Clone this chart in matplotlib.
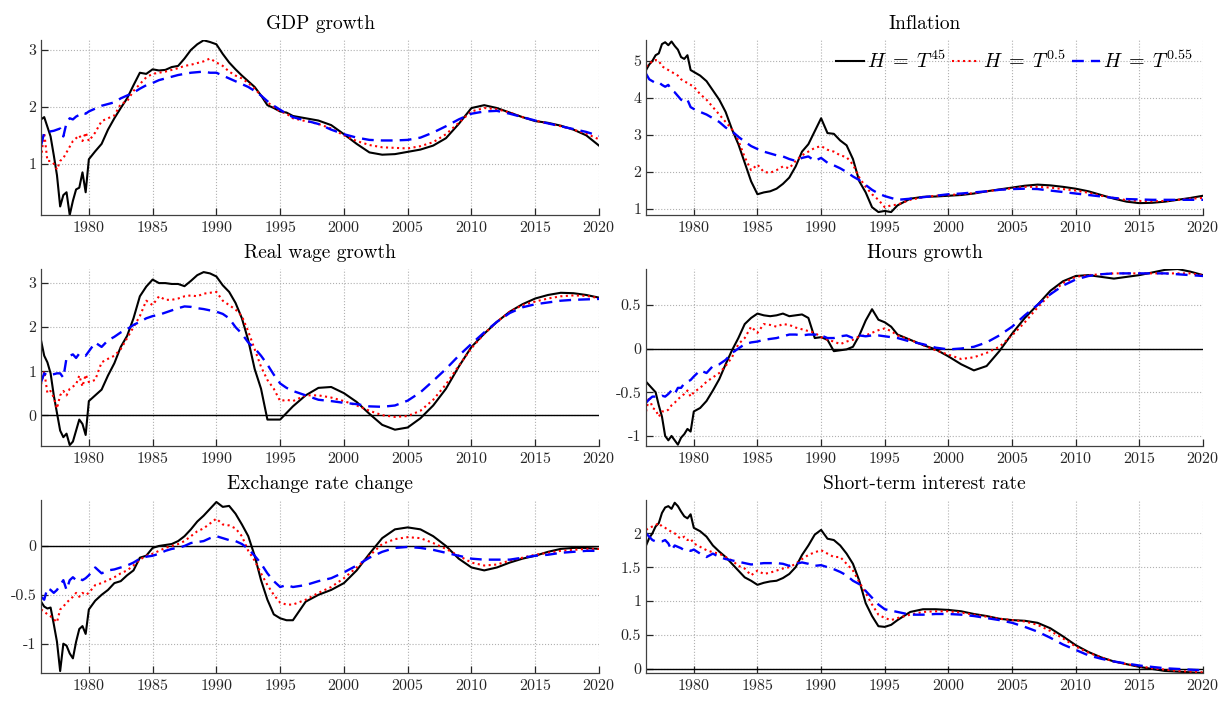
import numpy as np
import matplotlib
matplotlib.use('Agg')
import matplotlib.pyplot as plt
from matplotlib.ticker import FuncFormatter

plt.rcParams['font.family'] = 'serif'
plt.rcParams['font.serif'] = ['cmr10', 'DejaVu Serif']
plt.rcParams['mathtext.fontset'] = 'cm'
plt.rcParams['axes.unicode_minus'] = False
plt.rcParams['axes.formatter.use_mathtext'] = True

# quarterly to 1980, half-yearly to 1996, yearly afterwards
years = np.concatenate([np.arange(1976.25, 1980.01, 0.25),
                        np.arange(1980.5, 1996.01, 0.5),
                        np.arange(1997, 2020.01, 1.0)])

gdp_h45 = [1.78, 1.82, 1.65, 1.48, 1.15, 0.80, 0.25, 0.45, 0.50, 0.10, 0.35, 0.55, 0.58, 0.85, 0.50, 1.08,
           1.22, 1.35, 1.60, 1.80, 1.98, 2.15, 2.38, 2.60, 2.58, 2.66, 2.64, 2.65, 2.70, 2.72, 2.85, 3.00,
           3.10, 3.17, 3.14, 3.10, 2.93, 2.78, 2.66, 2.55, 2.45, 2.35, 2.20, 2.03, 1.98, 1.92, 1.90, 1.84,
           1.80, 1.76, 1.68, 1.52, 1.35, 1.20, 1.16, 1.17, 1.21, 1.25, 1.32, 1.45, 1.70, 1.98, 2.03, 1.98,
           1.90, 1.82, 1.75, 1.72, 1.67, 1.60, 1.50, 1.32]
gdp_h05 = [1.10, 1.55, 1.05, 1.05, 1.00, 0.90, 1.05, 1.10, 1.20, 1.30, 1.40, 1.45, 1.50, 1.40, 1.55, 1.40,
           1.55, 1.75, 1.80, 1.85, 2.05, 2.10, 2.28, 2.40, 2.52, 2.58, 2.60, 2.62, 2.65, 2.68, 2.72, 2.74,
           2.77, 2.80, 2.85, 2.78, 2.72, 2.62, 2.55, 2.50, 2.42, 2.32, 2.20, 2.08, 2.00, 1.92, 1.88, 1.80,
           1.75, 1.70, 1.62, 1.50, 1.40, 1.33, 1.29, 1.28, 1.27, 1.31, 1.38, 1.52, 1.72, 1.92, 1.98, 1.96,
           1.90, 1.82, 1.76, 1.71, 1.66, 1.60, 1.53, 1.43]
gdp_h055 = [1.32, 1.55, 1.55, 1.57, 1.58, 1.60, 1.62, 1.48, 1.72, 1.80, 1.78, 1.83, 1.86, 1.90, 1.88, 1.92,
            1.97, 2.02, 2.05, 2.08, 2.15, 2.20, 2.25, 2.32, 2.38, 2.42, 2.47, 2.50, 2.53, 2.56, 2.58, 2.60,
            2.61, 2.62, 2.60, 2.60, 2.55, 2.50, 2.45, 2.40, 2.35, 2.28, 2.20, 2.10, 2.02, 1.95, 1.88, 1.82,
            1.76, 1.70, 1.60, 1.52, 1.46, 1.42, 1.41, 1.41, 1.42, 1.46, 1.55, 1.66, 1.78, 1.88, 1.92, 1.93,
            1.88, 1.82, 1.76, 1.71, 1.66, 1.61, 1.56, 1.49]

infl_h45 = [4.75, 4.90, 5.00, 5.15, 5.20, 5.45, 5.50, 5.42, 5.52, 5.40, 5.30, 5.10, 5.05, 5.15, 4.75, 4.70,
            4.60, 4.45, 4.20, 3.95, 3.62, 3.15, 2.75, 2.25, 1.75, 1.40, 1.45, 1.48, 1.55, 1.68, 1.85, 2.15,
            2.55, 2.75, 3.10, 3.45, 3.05, 3.03, 2.85, 2.72, 2.35, 1.75, 1.45, 1.05, 0.92, 0.95, 0.92, 1.10,
            1.28, 1.33, 1.34, 1.36, 1.38, 1.42, 1.48, 1.53, 1.58, 1.63, 1.66, 1.64, 1.60, 1.55, 1.48, 1.38,
            1.28, 1.20, 1.16, 1.17, 1.20, 1.25, 1.30, 1.36]
infl_h05 = [4.85, 4.90, 5.00, 5.02, 5.00, 4.85, 4.80, 4.75, 4.70, 4.65, 4.60, 4.50, 4.45, 4.40, 4.35, 4.30,
            4.10, 3.95, 3.75, 3.55, 3.35, 3.15, 2.85, 2.40, 2.05, 2.20, 2.00, 1.98, 2.05, 2.15, 2.10, 2.30,
            2.45, 2.55, 2.65, 2.70, 2.60, 2.55, 2.45, 2.40, 2.20, 1.85, 1.60, 1.40, 1.25, 1.05, 1.10, 1.12,
            1.25, 1.32, 1.36, 1.38, 1.40, 1.43, 1.48, 1.52, 1.56, 1.60, 1.60, 1.58, 1.54, 1.50, 1.44, 1.36,
            1.30, 1.24, 1.22, 1.21, 1.22, 1.25, 1.28, 1.30]
infl_h055 = [4.65, 4.50, 4.45, 4.40, 4.42, 4.35, 4.30, 4.35, 4.20, 4.15, 4.05, 3.95, 3.90, 3.95, 3.75, 3.70,
             3.62, 3.55, 3.45, 3.35, 3.20, 3.10, 2.95, 2.82, 2.70, 2.62, 2.55, 2.50, 2.45, 2.42, 2.35, 2.30,
             2.38, 2.42, 2.30, 2.38, 2.25, 2.18, 2.10, 2.00, 1.88, 1.78, 1.65, 1.52, 1.42, 1.35, 1.30, 1.25,
             1.28, 1.32, 1.36, 1.40, 1.42, 1.45, 1.48, 1.52, 1.54, 1.55, 1.54, 1.50, 1.46, 1.42, 1.38, 1.34,
             1.30, 1.27, 1.26, 1.25, 1.25, 1.25, 1.25, 1.25]

wage_h45 = [1.70, 1.35, 1.20, 0.95, 0.45, 0.05, -0.35, -0.50, -0.42, -0.68, -0.60, -0.35, -0.10, -0.20, -0.45, 0.32,
            0.45, 0.58, 0.90, 1.18, 1.55, 1.80, 2.20, 2.70, 2.92, 3.08, 3.00, 3.00, 2.98, 2.98, 2.93, 3.05,
            3.18, 3.25, 3.22, 3.15, 2.95, 2.80, 2.55, 2.20, 1.70, 1.05, 0.60, -0.10, -0.10, -0.10, 0.05, 0.20,
            0.45, 0.62, 0.64, 0.50, 0.30, 0.03, -0.22, -0.33, -0.28, -0.07, 0.22, 0.60, 1.10, 1.55, 1.85, 2.12,
            2.35, 2.52, 2.65, 2.73, 2.78, 2.77, 2.73, 2.67]
wage_h05 = [0.70, 1.00, 0.50, 0.55, 0.40, 0.15, 0.45, 0.55, 0.45, 0.60, 0.65, 0.70, 0.90, 0.65, 0.92, 0.75,
            0.80, 1.20, 1.28, 1.35, 1.50, 1.75, 2.00, 2.25, 2.60, 2.50, 2.70, 2.62, 2.62, 2.65, 2.70, 2.72,
            2.70, 2.76, 2.78, 2.80, 2.60, 2.50, 2.40, 2.25, 1.90, 1.50, 1.10, 0.80, 0.60, 0.32, 0.35, 0.32,
            0.45, 0.45, 0.40, 0.32, 0.22, 0.10, 0.00, -0.04, -0.02, 0.10, 0.35, 0.70, 1.12, 1.52, 1.85, 2.12,
            2.35, 2.50, 2.58, 2.65, 2.70, 2.72, 2.71, 2.66]
wage_h055 = [0.75, 0.95, 0.90, 0.92, 0.93, 0.95, 0.95, 0.85, 1.30, 1.35, 1.38, 1.30, 1.40, 1.38, 1.35, 1.45,
             1.65, 1.55, 1.70, 1.78, 1.88, 1.95, 2.05, 2.12, 2.20, 2.25, 2.28, 2.33, 2.38, 2.43, 2.47, 2.46,
             2.43, 2.41, 2.38, 2.35, 2.30, 2.20, 2.00, 1.85, 1.65, 1.52, 1.35, 1.15, 0.92, 0.72, 0.62, 0.55,
             0.45, 0.35, 0.32, 0.28, 0.25, 0.20, 0.19, 0.22, 0.33, 0.52, 0.78, 1.05, 1.35, 1.62, 1.88, 2.12,
             2.32, 2.45, 2.52, 2.56, 2.60, 2.62, 2.63, 2.64]

hours_h45 = [-0.38, -0.42, -0.46, -0.50, -0.65, -0.78, -1.00, -1.05, -1.00, -1.05, -1.10, -1.02, -0.98, -0.92, -0.95, -0.72,
             -0.68, -0.60, -0.48, -0.35, -0.18, -0.02, 0.12, 0.28, 0.35, 0.40, 0.38, 0.37, 0.38, 0.40, 0.37, 0.38,
             0.39, 0.35, 0.12, 0.13, 0.10, -0.03, -0.02, -0.01, 0.02, 0.15, 0.32, 0.45, 0.33, 0.30, 0.25, 0.16,
             0.10, 0.04, -0.01, -0.09, -0.18, -0.25, -0.20, -0.03, 0.17, 0.35, 0.50, 0.66, 0.77, 0.83, 0.84, 0.82,
             0.80, 0.82, 0.84, 0.87, 0.90, 0.91, 0.88, 0.84]
hours_h05 = [-0.72, -0.55, -0.68, -0.70, -0.78, -0.72, -0.72, -0.70, -0.65, -0.62, -0.58, -0.55, -0.52, -0.48, -0.55, -0.50,
             -0.45, -0.38, -0.33, -0.28, -0.20, -0.10, 0.05, 0.12, 0.25, 0.18, 0.28, 0.27, 0.25, 0.28, 0.27, 0.24,
             0.22, 0.20, 0.18, 0.13, 0.10, 0.08, 0.05, 0.08, 0.10, 0.14, 0.15, 0.18, 0.21, 0.23, 0.20, 0.15,
             0.10, 0.04, -0.02, -0.07, -0.12, -0.10, -0.05, 0.02, 0.15, 0.30, 0.47, 0.62, 0.75, 0.82, 0.84, 0.85,
             0.86, 0.86, 0.86, 0.86, 0.86, 0.86, 0.86, 0.84]
hours_h055 = [-0.62, -0.58, -0.55, -0.55, -0.56, -0.54, -0.55, -0.52, -0.48, -0.52, -0.45, -0.45, -0.40, -0.38, -0.36, -0.32,
              -0.25, -0.28, -0.20, -0.18, -0.13, -0.05, 0.00, 0.05, 0.07, 0.08, 0.10, 0.11, 0.12, 0.14, 0.16, 0.16,
              0.15, 0.16, 0.16, 0.15, 0.12, 0.12, 0.14, 0.15, 0.12, 0.15, 0.14, 0.15, 0.15, 0.14, 0.13, 0.12,
              0.08, 0.05, 0.01, -0.01, 0.00, 0.02, 0.07, 0.15, 0.25, 0.38, 0.50, 0.62, 0.72, 0.79, 0.83, 0.85,
              0.86, 0.86, 0.86, 0.86, 0.86, 0.85, 0.84, 0.83]

fx_h45 = [-0.57, -0.62, -0.64, -0.63, -0.80, -0.98, -1.28, -1.00, -1.02, -1.10, -1.15, -0.98, -0.85, -0.82, -0.90, -0.65,
          -0.56, -0.50, -0.45, -0.38, -0.36, -0.30, -0.25, -0.12, -0.10, -0.02, 0.00, 0.01, 0.02, 0.05, 0.10, 0.17,
          0.25, 0.31, 0.38, 0.45, 0.40, 0.41, 0.33, 0.22, 0.10, -0.10, -0.35, -0.55, -0.70, -0.74, -0.76, -0.76,
          -0.57, -0.50, -0.45, -0.38, -0.25, -0.08, 0.08, 0.17, 0.19, 0.17, 0.10, 0.00, -0.13, -0.22, -0.25, -0.22,
          -0.17, -0.13, -0.10, -0.06, -0.03, -0.02, -0.02, -0.03]
fx_h05 = [-0.65, -0.67, -0.70, -0.72, -0.75, -0.78, -0.65, -0.62, -0.58, -0.55, -0.52, -0.48, -0.52, -0.48, -0.50, -0.48,
          -0.40, -0.38, -0.35, -0.32, -0.28, -0.25, -0.20, -0.14, -0.10, -0.08, -0.05, -0.02, 0.00, 0.02, 0.05, 0.10,
          0.15, 0.18, 0.23, 0.28, 0.22, 0.21, 0.18, 0.10, -0.05, -0.15, -0.28, -0.40, -0.50, -0.58, -0.60, -0.60,
          -0.55, -0.48, -0.42, -0.33, -0.22, -0.10, 0.02, 0.07, 0.09, 0.08, 0.03, -0.03, -0.10, -0.17, -0.20, -0.19,
          -0.15, -0.12, -0.09, -0.07, -0.05, -0.04, -0.03, -0.03]
fx_h055 = [-0.52, -0.55, -0.43, -0.45, -0.48, -0.45, -0.40, -0.35, -0.45, -0.35, -0.32, -0.35, -0.33, -0.35, -0.33, -0.30,
           -0.22, -0.28, -0.25, -0.24, -0.22, -0.20, -0.17, -0.13, -0.11, -0.10, -0.08, -0.05, -0.03, -0.02, 0.00, 0.03,
           0.04, 0.05, 0.08, 0.10, 0.08, 0.06, 0.05, 0.02, -0.03, -0.10, -0.18, -0.28, -0.36, -0.42, -0.40, -0.42,
           -0.40, -0.36, -0.33, -0.27, -0.20, -0.12, -0.06, -0.02, -0.01, -0.02, -0.04, -0.07, -0.10, -0.13, -0.14, -0.14,
           -0.14, -0.12, -0.10, -0.09, -0.07, -0.06, -0.05, -0.05]

rate_h45 = [1.82, 1.93, 2.00, 2.10, 2.15, 2.30, 2.38, 2.40, 2.36, 2.45, 2.40, 2.32, 2.25, 2.22, 2.28, 2.08,
            2.03, 1.95, 1.82, 1.73, 1.65, 1.55, 1.45, 1.35, 1.30, 1.24, 1.27, 1.29, 1.30, 1.34, 1.40, 1.50,
            1.68, 1.82, 1.98, 2.05, 1.92, 1.90, 1.82, 1.70, 1.55, 1.30, 0.97, 0.78, 0.63, 0.62, 0.65, 0.72,
            0.84, 0.88, 0.88, 0.87, 0.85, 0.81, 0.78, 0.74, 0.72, 0.71, 0.68, 0.60, 0.48, 0.35, 0.25, 0.17,
            0.11, 0.07, 0.03, 0.00, -0.03, -0.04, -0.05, -0.06]
rate_h05 = [2.05, 2.08, 2.10, 2.12, 2.15, 2.10, 2.08, 2.05, 2.02, 2.00, 1.95, 1.92, 1.95, 1.90, 1.92, 1.85,
            1.80, 1.75, 1.72, 1.70, 1.65, 1.60, 1.52, 1.48, 1.38, 1.45, 1.40, 1.42, 1.45, 1.48, 1.50, 1.55,
            1.62, 1.68, 1.72, 1.75, 1.70, 1.65, 1.65, 1.55, 1.45, 1.28, 1.12, 0.95, 0.80, 0.75, 0.72, 0.75,
            0.80, 0.84, 0.85, 0.85, 0.83, 0.80, 0.77, 0.74, 0.72, 0.70, 0.65, 0.56, 0.45, 0.33, 0.24, 0.17,
            0.11, 0.07, 0.04, 0.01, -0.01, -0.03, -0.04, -0.05]
rate_h055 = [2.00, 1.95, 1.90, 1.88, 1.88, 1.88, 1.90, 1.85, 1.75, 1.82, 1.80, 1.78, 1.75, 1.76, 1.74, 1.76,
             1.70, 1.65, 1.70, 1.65, 1.62, 1.60, 1.58, 1.56, 1.54, 1.55, 1.56, 1.56, 1.56, 1.55, 1.52, 1.55,
             1.57, 1.55, 1.52, 1.53, 1.50, 1.47, 1.43, 1.38, 1.30, 1.25, 1.15, 1.05, 0.95, 0.88, 0.86, 0.84,
             0.80, 0.80, 0.81, 0.81, 0.80, 0.78, 0.75, 0.72, 0.68, 0.62, 0.55, 0.46, 0.36, 0.28, 0.20, 0.15,
             0.11, 0.08, 0.05, 0.03, 0.01, 0.00, -0.01, -0.02]

panels = [
    ('GDP growth', gdp_h45, gdp_h05, gdp_h055, (0.10, 3.175), [1, 2, 3], False),
    ('Inflation', infl_h45, infl_h05, infl_h055, (0.84, 5.56), [1, 2, 3, 4, 5], False),
    ('Real wage growth', wage_h45, wage_h05, wage_h055, (-0.70, 3.32), [0, 1, 2, 3], True),
    ('Hours growth', hours_h45, hours_h05, hours_h055, (-1.115, 0.91), [-1, -0.5, 0, 0.5], True),
    ('Exchange rate change', fx_h45, fx_h05, fx_h055, (-1.30, 0.47), [-1, -0.5, 0], True),
    ('Short-term interest rate', rate_h45, rate_h05, rate_h055, (-0.06, 2.49), [0, 0.5, 1, 1.5, 2], True),
]

# axes boxes in figure fractions [left, bottom, width, height]
col_x = [(0.0333, 0.4529), (0.5244, 0.4521)]
row_y = [(0.6937, 0.2493), (0.3647, 0.2521), (0.0413, 0.2464)]

fig = plt.figure(figsize=(12.32, 7.02), dpi=100)
fmt = FuncFormatter(lambda v, p: '%g' % v)

for i, (title, s1, s2, s3, ylim, yt, zero) in enumerate(panels):
    r, c = divmod(i, 2)
    ax = fig.add_axes([col_x[c][0], row_y[r][0], col_x[c][1], row_y[r][1]])
    ax.set_axisbelow(True)
    if zero:
        ax.axhline(0, color='k', lw=1.0, zorder=1.5)
    l1, = ax.plot(years, s1, color='k', lw=1.5, ls='-', label=r'$H\;=\;T^{45}$', zorder=2)
    l2, = ax.plot(years, s2, color='r', lw=1.5, ls=':', label=r'$H\;=\;T^{0.5}$', zorder=2)
    l3, = ax.plot(years, s3, color='b', lw=1.7, ls='--', dashes=(5, 3), label=r'$H\;=\;T^{0.55}$', zorder=2)
    ax.set_xlim(1976.25, 2020)
    ax.set_ylim(*ylim)
    ax.set_xticks(range(1980, 2021, 5))
    ax.set_yticks(yt)
    ax.yaxis.set_major_formatter(fmt)
    ax.grid(True, ls=':', color='#b0b0b0', lw=0.8)
    for s in ['top', 'right']:
        ax.spines[s].set_visible(False)
    for s in ['left', 'bottom']:
        ax.spines[s].set_color('#404040')
        ax.spines[s].set_linewidth(0.9)
    ax.tick_params(direction='in', length=5, width=0.9, labelsize=11.5, colors='#262626')
    ax.set_title(title, fontsize=14, pad=8)
    if i == 1:
        ax.legend(handles=[l1, l2, l3], loc='upper right', ncol=3, frameon=False,
                  fontsize=14.5, handlelength=1.4, handletextpad=0.15, columnspacing=0.3,
                  borderaxespad=0.1, bbox_to_anchor=(1.0, 1.0))

fig.savefig('out.png', dpi=100)
